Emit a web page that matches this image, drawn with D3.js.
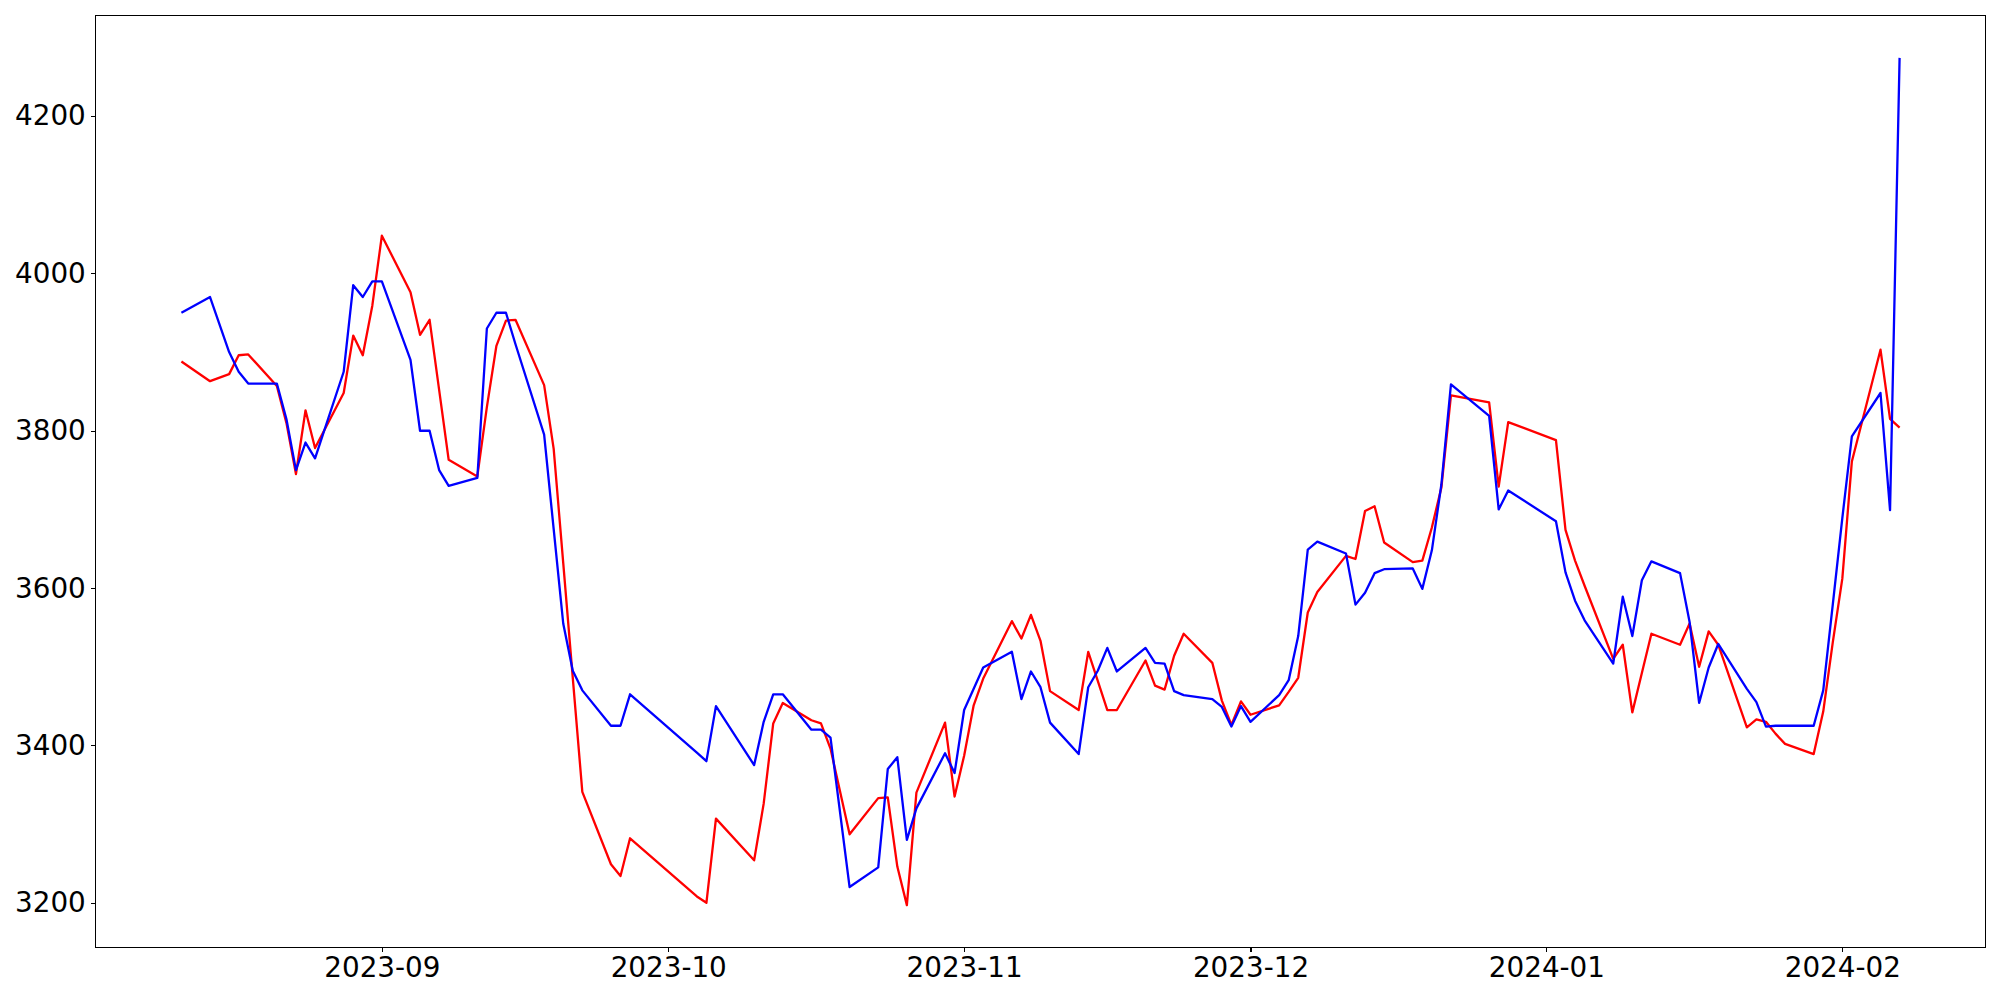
<!DOCTYPE html>
<html>
<head>
<meta charset="utf-8">
<script src="https://cdnjs.cloudflare.com/ajax/libs/d3/7.8.5/d3.min.js"></script>
<style>
body { margin: 0; background: #fff; }
svg text { font-family: "DejaVu Sans", sans-serif; }
</style>
</head>
<body>
<svg id="chart" width="2000" height="1000"></svg>
<script>
var dates = [
	'2023-08-11','2023-08-14','2023-08-16','2023-08-17','2023-08-18','2023-08-21','2023-08-22','2023-08-23','2023-08-24','2023-08-25',
	'2023-08-28','2023-08-29','2023-08-30','2023-08-31','2023-09-01','2023-09-04','2023-09-05','2023-09-06','2023-09-07','2023-09-08',
	'2023-09-11','2023-09-12','2023-09-13','2023-09-14','2023-09-15','2023-09-18','2023-09-19','2023-09-20','2023-09-21','2023-09-22',
	'2023-09-25','2023-09-26','2023-09-27','2023-10-04','2023-10-05','2023-10-06','2023-10-10','2023-10-11','2023-10-12','2023-10-13',
	'2023-10-16','2023-10-17','2023-10-18','2023-10-20','2023-10-23','2023-10-24','2023-10-25','2023-10-26','2023-10-27','2023-10-30',
	'2023-10-31','2023-11-01','2023-11-02','2023-11-03','2023-11-06','2023-11-07','2023-11-08','2023-11-09','2023-11-10','2023-11-13',
	'2023-11-14','2023-11-15','2023-11-16','2023-11-17','2023-11-20','2023-11-21','2023-11-22','2023-11-23','2023-11-24','2023-11-27',
	'2023-11-28','2023-11-29','2023-11-30','2023-12-01','2023-12-04','2023-12-05','2023-12-06','2023-12-07','2023-12-08','2023-12-11',
	'2023-12-12','2023-12-13','2023-12-14','2023-12-15','2023-12-18','2023-12-19','2023-12-20','2023-12-21','2023-12-22','2023-12-26',
	'2023-12-27','2023-12-28','2024-01-02','2024-01-03','2024-01-04','2024-01-05','2024-01-08','2024-01-09','2024-01-10','2024-01-11',
	'2024-01-12','2024-01-15','2024-01-16','2024-01-17','2024-01-18','2024-01-19','2024-01-22','2024-01-23','2024-01-24','2024-01-25',
	'2024-01-26','2024-01-29','2024-01-30','2024-01-31','2024-02-01','2024-02-02','2024-02-05','2024-02-06','2024-02-07'
]

var red_values = [
	3888, 3863, 3872, 3896, 3897, 3857, 3810, 3745, 3826, 3778,
	3848, 3921, 3896, 3959, 4048, 3976, 3922, 3941, 3852, 3763,
	3742, 3830, 3908, 3940, 3941, 3858, 3777, 3632, 3486, 3341,
	3249, 3234, 3282, 3208, 3200, 3307, 3254, 3326, 3428, 3454,
	3432, 3428, 3396, 3287, 3333, 3334, 3246, 3197, 3340, 3429,
	3335, 3387, 3451, 3485, 3558, 3536, 3566, 3533, 3469, 3445,
	3519, 3482, 3445, 3445, 3508, 3476, 3471, 3514, 3542, 3505,
	3457, 3426, 3456, 3439, 3451, 3468, 3486, 3569, 3595, 3641,
	3637, 3698, 3704, 3658, 3633, 3635, 3677, 3728, 3845, 3836,
	3729, 3811, 3788, 3674, 3635, 3603, 3510, 3528, 3442, 3492,
	3542, 3528, 3555, 3500, 3545, 3528, 3423, 3433, 3430, 3415,
	3402, 3389, 3443, 3531, 3612, 3761, 3903, 3815, 3804
]

var blue_values = [
	3950, 3970, 3900, 3875, 3860, 3860, 3815, 3750, 3785, 3765,
	3875, 3985, 3970, 3990, 3990, 3890, 3800, 3800, 3750, 3730,
	3740, 3930, 3950, 3950, 3910, 3795, 3675, 3555, 3495, 3470,
	3425, 3425, 3465, 3391, 3380, 3450, 3375, 3430, 3465, 3465,
	3420, 3420, 3410, 3220, 3245, 3370, 3385, 3280, 3320, 3390,
	3365, 3445, 3472, 3499, 3519, 3459, 3494, 3474, 3429, 3389,
	3474, 3495, 3524, 3494, 3524, 3505, 3504, 3469, 3464, 3459,
	3449, 3424, 3450, 3430, 3464, 3483, 3539, 3649, 3659, 3644,
	3579, 3594, 3619, 3624, 3625, 3599, 3648, 3732, 3859, 3819,
	3700, 3724, 3685, 3620, 3584, 3559, 3504, 3589, 3539, 3610,
	3634, 3619, 3557, 3454, 3499, 3529, 3472, 3455, 3424, 3425,
	3425, 3425, 3470, 3579, 3689, 3793, 3848, 3699, 4274
]

var y_ticks = [3200, 3400, 3600, 3800, 4000, 4200]

function chart(){

	var W = 2000, H = 1000
	var margin = {left: 95.5, right: 14.5, top: 15.5, bottom: 52.5}
	var pw = W - margin.left - margin.right
	var ph = H - margin.top - margin.bottom
	var font_px = 27.8
	var tick_len = 4.86

	var parse = d3.timeParse('%Y-%m-%d')
	var red = dates.map(function(d, i){ return {date: parse(d), value: red_values[i]} })
	var blue = dates.map(function(d, i){ return {date: parse(d), value: blue_values[i]} })

	// matplotlib style 5% padding on both axes
	var xe = d3.extent(red, function(e){ return e.date })
	var xpad = (xe[1] - xe[0]) * 0.05
	var all = red_values.concat(blue_values)
	var ye = d3.extent(all)
	var ypad = (ye[1] - ye[0]) * 0.05

	var scale_x = d3.scaleTime()
		.domain([new Date(+xe[0] - xpad), new Date(+xe[1] + xpad)])
		.range([0, pw])
	var scale_y = d3.scaleLinear()
		.domain([ye[0] - ypad, ye[1] + ypad])
		.range([ph, 0])

	var svg = d3.select('svg#chart')
	var g = svg.append('g')
		.attr('transform', 'translate(' + margin.left + ',' + margin.top + ')')

	var line = d3.line()
		.x(function(e){ return scale_x(e.date) })
		.y(function(e){ return scale_y(e.value) })

	g.append('path')
		.datum(red)
		.attr('d', line)
		.style('fill', 'none')
		.style('stroke', '#ff0000')
		.style('stroke-width', 2.3)
		.style('stroke-linejoin', 'round')

	g.append('path')
		.datum(blue)
		.attr('d', line)
		.style('fill', 'none')
		.style('stroke', '#0000ff')
		.style('stroke-width', 2.3)
		.style('stroke-linejoin', 'round')

	var x_axis = d3.axisBottom(scale_x)
		.ticks(d3.timeMonth.every(1))
		.tickFormat(d3.timeFormat('%Y-%m'))
		.tickSize(tick_len)
		.tickSizeOuter(0)
		.tickPadding(tick_len)
	var y_axis = d3.axisLeft(scale_y)
		.tickValues(y_ticks)
		.tickFormat(d3.format('d'))
		.tickSize(tick_len)
		.tickSizeOuter(0)
		.tickPadding(tick_len)

	var gx = g.append('g')
		.attr('transform', 'translate(0,' + ph + ')')
		.call(x_axis)
	var gy = g.append('g')
		.call(y_axis)

	;[gx, gy].forEach(function(a){
		a.select('.domain').remove()
		a.selectAll('line')
			.style('stroke', '#000')
			.style('stroke-width', 1.1)
			.style('shape-rendering', 'crispEdges')
		a.selectAll('text')
			.style('font-size', font_px + 'px')
			.style('font-family', '"DejaVu Sans", sans-serif')
			.style('fill', '#000')
	})

	g.append('rect')
		.attr('x', 0)
		.attr('y', 0)
		.attr('width', pw)
		.attr('height', ph)
		.style('fill', 'none')
		.style('stroke', '#000')
		.style('stroke-width', 1.1)
		.style('shape-rendering', 'crispEdges')
}

chart()
</script>
</body>
</html>
